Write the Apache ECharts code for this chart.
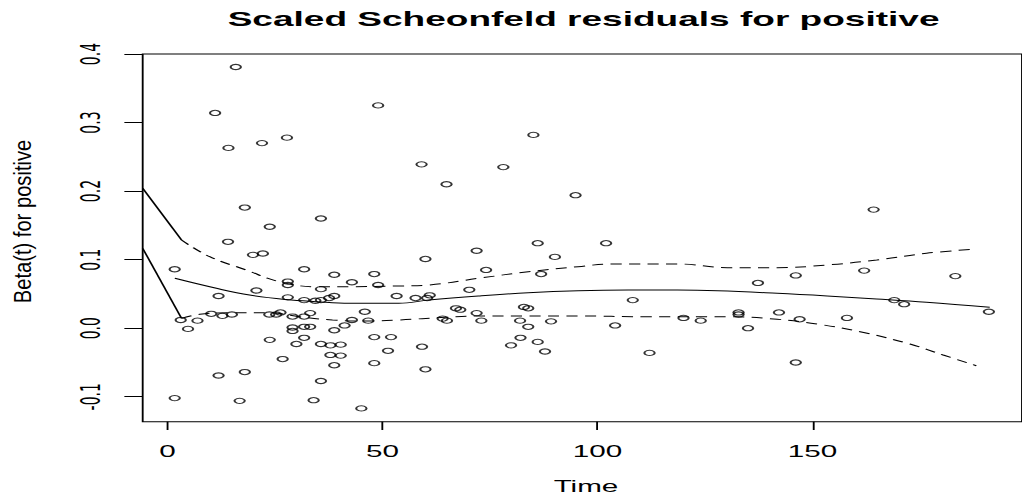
<!DOCTYPE html>
<html>
<head>
<meta charset="utf-8">
<script src="https://cdn.jsdelivr.net/npm/echarts@6/dist/echarts.min.js"></script>
<style>
  html, body { margin: 0; padding: 0; background: #fff; overflow: hidden; }
  #chart {
    width: 552px; height: 496px;
    transform-origin: 0 0;
    transform: scaleX(1.85145);
  }
</style>
</head>
<body>
<div id="chart"></div>
<script>
// Scaled Schoenfeld residuals for the "positive" covariate
const residTime = [
  15.9, 11.1, 49.0, 14.2, 22.0, 27.8, 18.0, 35.7, 23.8, 14.1, 19.9, 22.2,
  1.7, 31.8, 38.8, 48.1, 28.0, 28.0, 42.9, 49.0, 35.7, 20.7, 53.3, 11.9,
  28.0, 38.8, 31.8, 34.4, 35.7, 37.6, 10.2, 12.8, 15.0, 23.7, 26.3, 25.3,
  29.1, 31.8, 33.2, 45.9, 3.1, 7.0, 42.9, 46.7, 4.8, 29.1, 29.1, 31.8,
  33.2, 38.8, 41.2, 48.1, 52.0, 31.8, 23.8, 30.0, 35.7, 37.9, 40.3, 51.3,
  37.9, 40.3, 26.8, 38.8, 48.1, 11.9, 18.0, 35.7, 1.7, 16.8, 34.0, 45.1,
  86.1, 102.0, 71.9, 60.0, 90.1, 74.1, 86.9, 70.2, 57.7, 60.4, 61.0, 108.2,
  67.1, 68.1, 82.9, 83.9, 71.9, 64.0, 65.0, 73.0, 82.0, 89.2, 120.0, 124.0,
  83.9, 104.1, 59.2, 82.1, 79.9, 86.1, 87.8, 112.1, 60.0, 85.1, 59.1, 78.1,
  64.9, 94.9, 164.2, 137.3, 146.1, 162.0, 183.2, 169.0, 171.3, 191.0, 132.8, 132.8,
  142.2, 147.0, 158.0, 135.0, 146.1
];
const residBeta = [
  0.381, 0.314, 0.325, 0.263, 0.270, 0.278, 0.176, 0.160, 0.148, 0.126, 0.107, 0.109,
  0.086, 0.086, 0.078, 0.079, 0.068, 0.063, 0.067, 0.063, 0.057, 0.055, 0.047, 0.047,
  0.045, 0.047, 0.041, 0.040, 0.041, 0.044, 0.021, 0.018, 0.020, 0.020, 0.023, 0.020,
  0.017, 0.017, 0.022, 0.024, 0.012, 0.011, 0.012, 0.011, -0.001, 0.001, -0.004, 0.002,
  0.002, -0.003, 0.004, -0.013, -0.013, -0.014, -0.017, -0.023, -0.023, -0.025, -0.024, -0.033,
  -0.039, -0.040, -0.045, -0.054, -0.051, -0.069, -0.064, -0.077, -0.102, -0.106, -0.105, -0.117,
  0.124, 0.124, 0.113, 0.101, 0.104, 0.085, 0.079, 0.056, 0.044, 0.044, 0.048, 0.041,
  0.029, 0.027, 0.031, 0.029, 0.022, 0.014, 0.011, 0.011, 0.011, 0.010, 0.015, 0.011,
  0.002, 0.004, -0.027, -0.014, -0.025, -0.020, -0.034, -0.036, -0.060, 0.282, 0.239, 0.235,
  0.210, 0.194, 0.173, 0.066, 0.077, 0.084, 0.076, 0.041, 0.035, 0.024, 0.023, 0.020,
  0.023, 0.013, 0.015, 0.000, -0.050
];

// Smoothed beta(t) estimate
const fitTime = [1.74, 11.4, 19.1, 27.6, 34.5, 42.3, 53.8, 60.8, 72.3, 83.9, 95.5, 107.1, 118.6, 127.9, 141.8, 153.4, 164.9, 176.5, 191.2];
const fitBeta = [0.0728, 0.0582, 0.0484, 0.0418, 0.0387, 0.0363, 0.0363, 0.0411, 0.0470, 0.0518, 0.0547, 0.0557, 0.0557, 0.0547, 0.0509, 0.0470, 0.0426, 0.0378, 0.0305];

// Confidence band (first segment drawn solid, remainder dashed)
const bandLeadTime = [-5.74, 3.29];
const upperLead = [0.2041, 0.1287];
const lowerLead = [0.1166, 0.0144];
const upperTime = [3.29, 9.84, 18.33, 26.04, 34.54, 42.25, 53.82, 60.76, 72.34, 83.91, 95.49, 103.19, 118.63, 130.21, 141.78, 153.36, 164.93, 176.5, 188.08];
const upperBand = [0.1287, 0.1043, 0.0849, 0.0678, 0.0605, 0.0605, 0.0616, 0.0630, 0.0728, 0.0824, 0.0897, 0.0937, 0.0937, 0.0883, 0.0883, 0.0922, 0.0995, 0.1093, 0.1156];
const lowerTime = [3.29, 7.52, 15.23, 23.73, 30.67, 38.38, 46.11, 53.82, 64.63, 72.34, 83.91, 95.49, 110.93, 130.21, 141.78, 151.04, 161.06, 172.64, 180.37, 188.08];
const lowerBand = [0.0144, 0.0203, 0.0226, 0.0226, 0.0168, 0.0120, 0.0105, 0.0120, 0.0159, 0.0178, 0.0178, 0.0178, 0.0168, 0.0168, 0.0130, 0.0061, -0.0051, -0.0231, -0.0391, -0.0547];

const xTicks = [0, 50, 100, 150];
const yTicks = [-0.1, 0.0, 0.1, 0.2, 0.3, 0.4];

const titleText = 'Scaled Scheonfeld residuals for positive';
const xTitle = 'Time';
const yTitle = 'Beta(t) for positive';

const pairs = (xs, ys) => xs.map((x, i) => [x, ys[i]]);
const FONT = '"Liberation Sans", Arial, Helvetica, sans-serif';

const chart = echarts.init(document.getElementById('chart'), null, {
  renderer: 'svg', width: 552, height: 496
});

const solid = { color: '#000', width: 1, type: 'solid' };
const dashed = { color: '#000', width: 1, type: [6, 4] };

chart.setOption({
  animation: false,
  backgroundColor: '#fff',
  // the plot frame comes from the grid border; axis lines would double it
  grid: {
    left: 77.07, right: -2.2, top: 54, bottom: 74.3,
    show: true, borderColor: '#000', borderWidth: 1, backgroundColor: 'transparent'
  },
  xAxis: {
    type: 'value', min: -5.74, max: 198.7,
    splitLine: { show: false },
    axisLine: { show: false, onZero: false },
    axisTick: { show: true, length: 8.3, customValues: xTicks, lineStyle: { color: '#000', width: 1 } },
    axisLabel: {
      customValues: xTicks, margin: 22, color: '#000',
      fontSize: 16, fontFamily: FONT,
      formatter: v => String(v)
    }
  },
  yAxis: {
    type: 'value', min: -0.1364, max: 0.4,
    splitLine: { show: false },
    axisLine: { show: false, onZero: false },
    axisTick: { show: true, length: 9.9, customValues: yTicks, lineStyle: { color: '#000', width: 1 } },
    axisLabel: {
      customValues: yTicks, rotate: 90, margin: 21, color: '#000',
      fontSize: 14, fontFamily: '"DejaVu Sans", sans-serif',
      formatter: v => v.toFixed(1)
    }
  },
  graphic: [
    {
      type: 'text', x: 315.2, y: 19, silent: true,
      style: {
        text: titleText, fill: '#000', fontSize: 20, fontWeight: 'bold', fontFamily: FONT,
        align: 'center', verticalAlign: 'middle', textAlign: 'center', textVerticalAlign: 'middle'
      }
    },
    {
      type: 'text', x: 316.5, y: 486, silent: true,
      style: {
        text: xTitle, fill: '#000', fontSize: 16, fontFamily: FONT,
        align: 'center', verticalAlign: 'middle', textAlign: 'center', textVerticalAlign: 'middle'
      }
    },
    {
      type: 'text', x: 12.15, y: 221.5, rotation: Math.PI / 2, scaleX: 1.55, silent: true,
      style: {
        text: yTitle, fill: '#000', fontSize: 13, fontFamily: FONT,
        align: 'center', verticalAlign: 'middle', textAlign: 'center', textVerticalAlign: 'middle'
      }
    }
  ],
  series: [
    {
      type: 'scatter', name: 'residuals',
      data: pairs(residTime, residBeta),
      symbol: 'circle', symbolSize: [5.6, 5.2],
      itemStyle: { color: 'rgba(255,255,255,0)', borderColor: '#000', borderWidth: 1.1 },
      silent: true, z: 3
    },
    {
      type: 'line', name: 'fit', data: pairs(fitTime, fitBeta),
      showSymbol: false, smooth: 0.4, lineStyle: solid, silent: true, z: 2
    },
    {
      type: 'line', name: 'upper lead', data: pairs(bandLeadTime, upperLead),
      showSymbol: false, lineStyle: solid, silent: true, z: 2
    },
    {
      type: 'line', name: 'lower lead', data: pairs(bandLeadTime, lowerLead),
      showSymbol: false, lineStyle: solid, silent: true, z: 2
    },
    {
      type: 'line', name: 'upper', data: pairs(upperTime, upperBand),
      showSymbol: false, smooth: 0.4, lineStyle: dashed, silent: true, z: 2
    },
    {
      type: 'line', name: 'lower', data: pairs(lowerTime, lowerBand),
      showSymbol: false, smooth: 0.4, lineStyle: dashed, silent: true, z: 2
    }
  ]
});
</script>
</body>
</html>
